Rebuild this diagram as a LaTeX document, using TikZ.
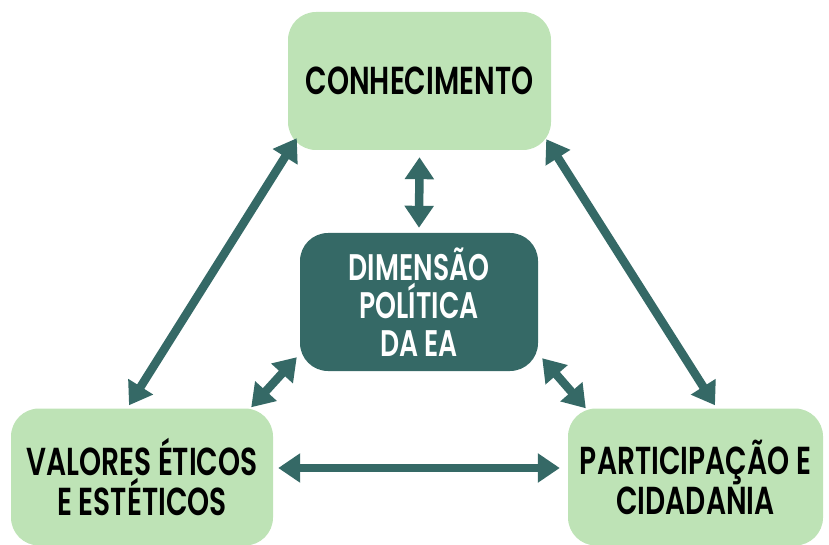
\documentclass[tikz,border=0pt]{standalone}
\usepackage{fontspec}
\setmainfont{Poppins}[FakeStretch=0.72, BoldFont={Poppins SemiBold}]
\usetikzlibrary{arrows.meta,positioning}
\definecolor{eagreen}{HTML}{BEE3B6}
\definecolor{eateal}{HTML}{356966}

\begin{document}
\begin{tikzpicture}[x=1pt, y=-1pt]
\tikzset{
   lightbox/.style={rectangle, rounded corners=28pt, fill=eagreen, inner sep=0pt, align=center, font=\fontsize{39}{40}\selectfont\bfseries},
   darkbox/.style={rectangle, rounded corners=28pt, fill=eateal, text=white, inner sep=0pt, align=center, minimum width=238pt, minimum height=138pt, font=\fontsize{37}{38}\selectfont\bfseries},
   link/.style={{Triangle[width=28pt,length=22pt]}-{Triangle[width=28pt,length=22pt]}, line width=8.5pt, draw=eateal},
}
\useasboundingbox (0,0) rectangle (829,545);

\node[lightbox, minimum width=263pt, minimum height=138pt] (conh) at (419.5,81) {CONHECIMENTO};
\node[darkbox] (dim) at (419,302) {DIMENSÃO\\POLÍTICA\\DA EA};
\node[lightbox, minimum width=262pt, minimum height=137pt] (valores) at (142,477) {VALORES ÉTICOS\\E ESTÉTICOS};
\node[lightbox, minimum width=255pt, minimum height=137pt] (part) at (695.5,477) {PARTICIPAÇÃO E\\CIDADANIA};

\draw[link] ([xshift=9pt,yshift=12pt]conh.south west) -- ([xshift=-13pt,yshift=3pt]valores.north);
\draw[link] ([xshift=-5pt,yshift=11pt]conh.south east) -- ([xshift=19.5pt,yshift=3pt]part.north);
\draw[link] ([yshift=-7pt]conh.south) -- ([yshift=5pt]dim.north);
\draw[link] ([xshift=-3pt,yshift=14pt]dim.south west) -- ([xshift=-22pt,yshift=1pt]valores.north east);
\draw[link] ([xshift=4pt,yshift=13pt]dim.south east) -- ([xshift=18pt]part.north west);
\draw[link] ([xshift=5pt,yshift=9pt]valores.east) -- ([xshift=-8pt,yshift=9pt]part.west);

\end{tikzpicture}
\end{document}
